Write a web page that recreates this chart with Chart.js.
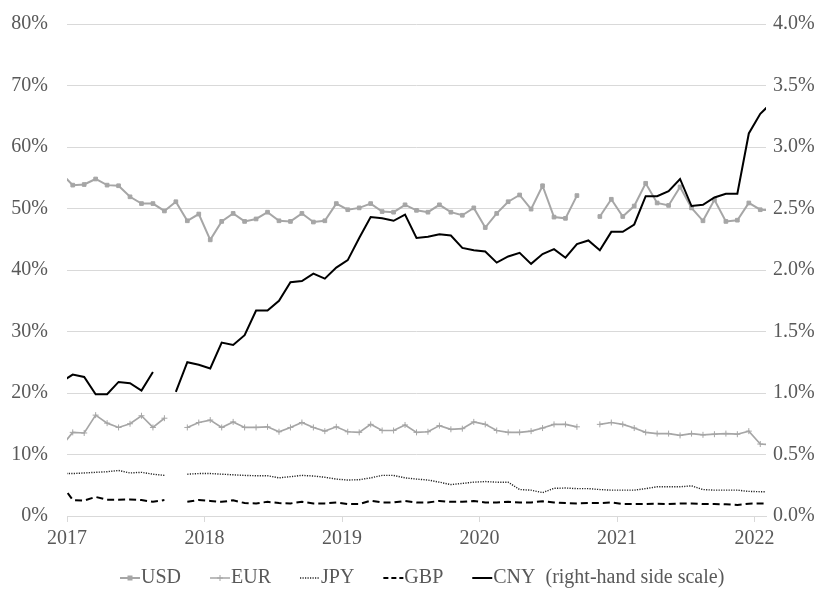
<!DOCTYPE html>
<html>
<head>
<meta charset="utf-8">
<script src="https://cdn.jsdelivr.net/npm/chart.js@4.4.1/dist/chart.umd.min.js"></script>
<style>
    html, body { margin: 0; padding: 0; background: #ffffff; }
    #chart { display: block; }
</style>
</head>
<body>
<canvas id="chart" width="826" height="593"></canvas>
<script>
// Monthly observations; Dec 2016 and Feb 2022 sit just outside the plotted range
var months = [
    '2016-12',
    '2017-01', '2017-02', '2017-03', '2017-04', '2017-05', '2017-06', '2017-07', '2017-08', '2017-09', '2017-10', '2017-11', '2017-12',
    '2018-01', '2018-02', '2018-03', '2018-04', '2018-05', '2018-06', '2018-07', '2018-08', '2018-09', '2018-10', '2018-11', '2018-12',
    '2019-01', '2019-02', '2019-03', '2019-04', '2019-05', '2019-06', '2019-07', '2019-08', '2019-09', '2019-10', '2019-11', '2019-12',
    '2020-01', '2020-02', '2020-03', '2020-04', '2020-05', '2020-06', '2020-07', '2020-08', '2020-09', '2020-10', '2020-11', '2020-12',
    '2021-01', '2021-02', '2021-03', '2021-04', '2021-05', '2021-06', '2021-07', '2021-08', '2021-09', '2021-10', '2021-11', '2021-12',
    '2022-01', '2022-02'
];

var yearLabels = ['2017', '2018', '2019', '2020', '2021', '2022'];

// Left-hand scale (%)
var usd = [
    55.7,
    53.8, 53.9, 54.8, 53.8, 53.7, 51.9, 50.8, 50.8, 49.6, 51.1, 48.0, 49.1,
    44.9, 47.9, 49.2, 47.9, 48.3, 49.4, 48.0, 47.9, 49.2, 47.8, 48.0, 50.8,
    49.8, 50.1, 50.8, 49.5, 49.4, 50.6, 49.7, 49.4, 50.6, 49.4, 48.9, 50.1,
    46.9, 49.2, 51.1, 52.2, 49.9, 53.7, 48.6, 48.4, 52.1, null, 48.7, 51.5,
    48.7, 50.4, 54.1, 50.9, 50.5, 53.5, 50.1, 48.0, 51.4, 47.9, 48.1, 50.9,
    49.8, 49.7
];

var eur = [
    11.3,
    13.6, 13.5, 16.4, 15.1, 14.4, 15.0, 16.3, 14.4, 15.9, null, 14.4, 15.2,
    15.6, 14.4, 15.3, 14.4, 14.4, 14.5, 13.7, 14.4, 15.2, 14.4, 13.8, 14.5,
    13.7, 13.6, 14.9, 13.9, 13.9, 14.8, 13.6, 13.7, 14.7, 14.1, 14.2, 15.3,
    14.9, 13.9, 13.6, 13.6, 13.8, 14.3, 14.9, 14.9, 14.5, null, 14.9, 15.2,
    14.9, 14.3, 13.6, 13.4, 13.4, 13.1, 13.4, 13.2, 13.3, 13.4, 13.3, 13.8,
    11.7, 11.6
];

var jpy = [
    6.9,
    6.9, 7.0, 7.1, 7.2, 7.4, 7.0, 7.1, 6.8, 6.6, null, 6.8, 6.9,
    6.9, 6.8, 6.7, 6.6, 6.55, 6.55, 6.2, 6.4, 6.6, 6.5, 6.3, 6.0,
    5.85, 5.9, 6.2, 6.6, 6.6, 6.2, 6.0, 5.85, 5.5, 5.1, 5.3, 5.5,
    5.6, 5.5, 5.5, 4.3, 4.2, 3.8, 4.5, 4.55, 4.45, 4.45, 4.3, 4.2,
    4.2, 4.2, 4.45, 4.75, 4.75, 4.75, 4.9, 4.3, 4.2, 4.2, 4.2, 4.0,
    3.95, 3.95
];

var gbp = [
    5.2,
    2.6, 2.5, 3.1, 2.65, 2.65, 2.7, 2.6, 2.3, 2.6, null, 2.3, 2.6,
    2.45, 2.3, 2.55, 2.1, 2.05, 2.3, 2.1, 2.05, 2.3, 2.05, 2.05, 2.2,
    1.95, 1.95, 2.5, 2.2, 2.2, 2.45, 2.2, 2.2, 2.45, 2.3, 2.3, 2.45,
    2.2, 2.2, 2.3, 2.2, 2.2, 2.4, 2.2, 2.1, 2.05, 2.1, 2.1, 2.2,
    1.95, 1.95, 1.95, 2.0, 1.95, 2.05, 2.05, 1.95, 1.95, 1.9, 1.8, 2.0,
    2.05, 2.05
];

// Right-hand scale (%)
var cny = [
    1.09,
    1.15, 1.13, 0.99, 0.99, 1.09, 1.08, 1.02, 1.17, null, 1.01, 1.25, 1.23,
    1.20, 1.41, 1.39, 1.47, 1.67, 1.67, 1.75, 1.90, 1.91, 1.97, 1.93, 2.02,
    2.08, 2.26, 2.43, 2.42, 2.40, 2.45, 2.26, 2.27, 2.29, 2.28, 2.18, 2.16,
    2.15, 2.06, 2.11, 2.14, 2.05, 2.13, 2.17, 2.10, 2.21, 2.24, 2.16, 2.31,
    2.31, 2.37, 2.60, 2.60, 2.64, 2.74, 2.52, 2.53, 2.59, 2.62, 2.62, 3.11,
    3.27, 3.36
];

var FONT = '"Liberation Serif", "Times New Roman", serif';
var TEXT = '#595959';
var GRID = '#d9d9d9';
var GREY = '#a6a6a6';

// month label -> position on the axis (months since Jan 2017, mid-month)
function toPoints(values) {
    return values.map(function(v, i) {
        var parts = months[i].split('-');
        var x = (parseInt(parts[0], 10) - 2017) * 12 + (parseInt(parts[1], 10) - 1) + 0.5;
        return { x: x, y: v };
    });
}

var legendItems = [
    { label: 'USD', color: GREY, width: 2, dash: [], marker: 'rect' },
    { label: 'EUR', color: GREY, width: 1.5, dash: [], marker: 'cross' },
    { label: 'JPY', color: '#222222', width: 1.3, dash: [1.2, 1.3], marker: null },
    { label: 'GBP', color: '#000000', width: 2, dash: [5, 3], marker: null },
    { label: 'CNY  (right-hand side scale)', color: '#000000', width: 2, dash: [], marker: null }
];

// Legend drawn by hand: short line sample followed directly by the text
var bottomLegend = {
    id: 'bottomLegend',
    afterDraw: function(chart) {
        var ctx = chart.ctx;
        var lineW = 20, gap = 30, y = 578;
        ctx.save();
        ctx.font = '20px ' + FONT;
        var total = 0;
        legendItems.forEach(function(it, k) {
            it.tw = ctx.measureText(it.label).width;
            total += lineW + it.tw + (k > 0 ? gap : 0);
        });
        var x = Math.round(chart.width / 2 + 9 - total / 2);
        legendItems.forEach(function(it) {
            ctx.strokeStyle = it.color;
            ctx.lineWidth = it.width;
            ctx.setLineDash(it.dash);
            ctx.beginPath();
            ctx.moveTo(x, y);
            ctx.lineTo(x + lineW, y);
            ctx.stroke();
            ctx.setLineDash([]);
            var cx = x + lineW / 2;
            if (it.marker === 'rect') {
                ctx.fillStyle = it.color;
                ctx.fillRect(cx - 2.5, y - 2.5, 5, 5);
            } else if (it.marker === 'cross') {
                ctx.lineWidth = 1;
                ctx.beginPath();
                ctx.moveTo(cx - 3, y);
                ctx.lineTo(cx + 3, y);
                ctx.moveTo(cx, y - 3);
                ctx.lineTo(cx, y + 3);
                ctx.stroke();
            }
            ctx.fillStyle = TEXT;
            ctx.textBaseline = 'middle';
            ctx.textAlign = 'left';
            ctx.fillText(it.label, x + lineW + 1, y);
            x += lineW + it.tw + gap;
        });
        ctx.restore();
    }
};

var chartConfig = {
    type: 'line',
    data: {
        datasets: [
            {
                label: 'CNY',
                data: toPoints(cny),
                yAxisID: 'y2',
                borderColor: '#000000',
                borderWidth: 2,
                pointRadius: 0,
                tension: 0
            },
            {
                label: 'USD',
                data: toPoints(usd),
                yAxisID: 'y',
                borderColor: GREY,
                borderWidth: 2,
                pointStyle: 'rect',
                pointRadius: 2.6,
                pointBorderWidth: 1,
                pointBackgroundColor: GREY,
                pointBorderColor: GREY,
                tension: 0
            },
            {
                label: 'EUR',
                data: toPoints(eur),
                yAxisID: 'y',
                borderColor: GREY,
                borderWidth: 1.7,
                pointStyle: 'cross',
                pointRadius: 3,
                pointBorderWidth: 1,
                pointBorderColor: GREY,
                tension: 0
            },
            {
                label: 'JPY',
                data: toPoints(jpy),
                yAxisID: 'y',
                borderColor: '#222222',
                borderWidth: 1.4,
                borderDash: [1.2, 1.3],
                pointRadius: 0,
                tension: 0
            },
            {
                label: 'GBP',
                data: toPoints(gbp),
                yAxisID: 'y',
                borderColor: '#000000',
                borderWidth: 2,
                borderDash: [7, 4],
                pointRadius: 0,
                tension: 0
            }
        ]
    },
    options: {
        responsive: false,
        animation: false,
        layout: { padding: { top: 24, left: 0, right: 0, bottom: 0 } },
        plugins: {
            legend: { display: false },
            tooltip: { enabled: false }
        },
        scales: {
            x: {
                type: 'linear',
                position: 'bottom',
                min: 0,
                max: 61,
                afterBuildTicks: function(scale) {
                    scale.ticks = yearLabels.map(function(y, k) { return { value: k * 12 }; });
                },
                afterFit: function(scale) { scale.height = 77; },
                ticks: {
                    autoSkip: false,
                    maxRotation: 0,
                    padding: 5,
                    color: TEXT,
                    font: { family: FONT, size: 20 },
                    callback: function(value) { return yearLabels[Math.round(value / 12)]; }
                },
                grid: {
                    drawOnChartArea: false,
                    drawTicks: true,
                    tickLength: 6,
                    color: GRID
                },
                border: { display: true, color: GRID }
            },
            y: {
                position: 'left',
                min: 0,
                max: 80,
                afterFit: function(scale) { scale.width = 67; },
                ticks: {
                    stepSize: 10,
                    padding: 0,
                    color: TEXT,
                    font: { family: FONT, size: 20 },
                    callback: function(value) { return value + '%'; }
                },
                // invisible tick marks keep the labels clear of the plot
                grid: { color: GRID, drawTicks: true, tickLength: 19, tickColor: 'rgba(0,0,0,0)' },
                border: { display: false }
            },
            y2: {
                position: 'right',
                min: 0,
                max: 4,
                afterFit: function(scale) { scale.width = 60; },
                ticks: {
                    stepSize: 0.5,
                    padding: 0,
                    color: TEXT,
                    font: { family: FONT, size: 20 },
                    callback: function(value) { return value.toFixed(1) + '%'; }
                },
                grid: { drawOnChartArea: false, drawTicks: true, tickLength: 7, tickColor: 'rgba(0,0,0,0)' },
                border: { display: false }
            }
        }
    },
    plugins: [bottomLegend]
};

try {
    new Chart(document.getElementById('chart').getContext('2d'), chartConfig);
} catch (error) {
    console.error('Chart initialization failed:', error);
}
</script>
</body>
</html>
